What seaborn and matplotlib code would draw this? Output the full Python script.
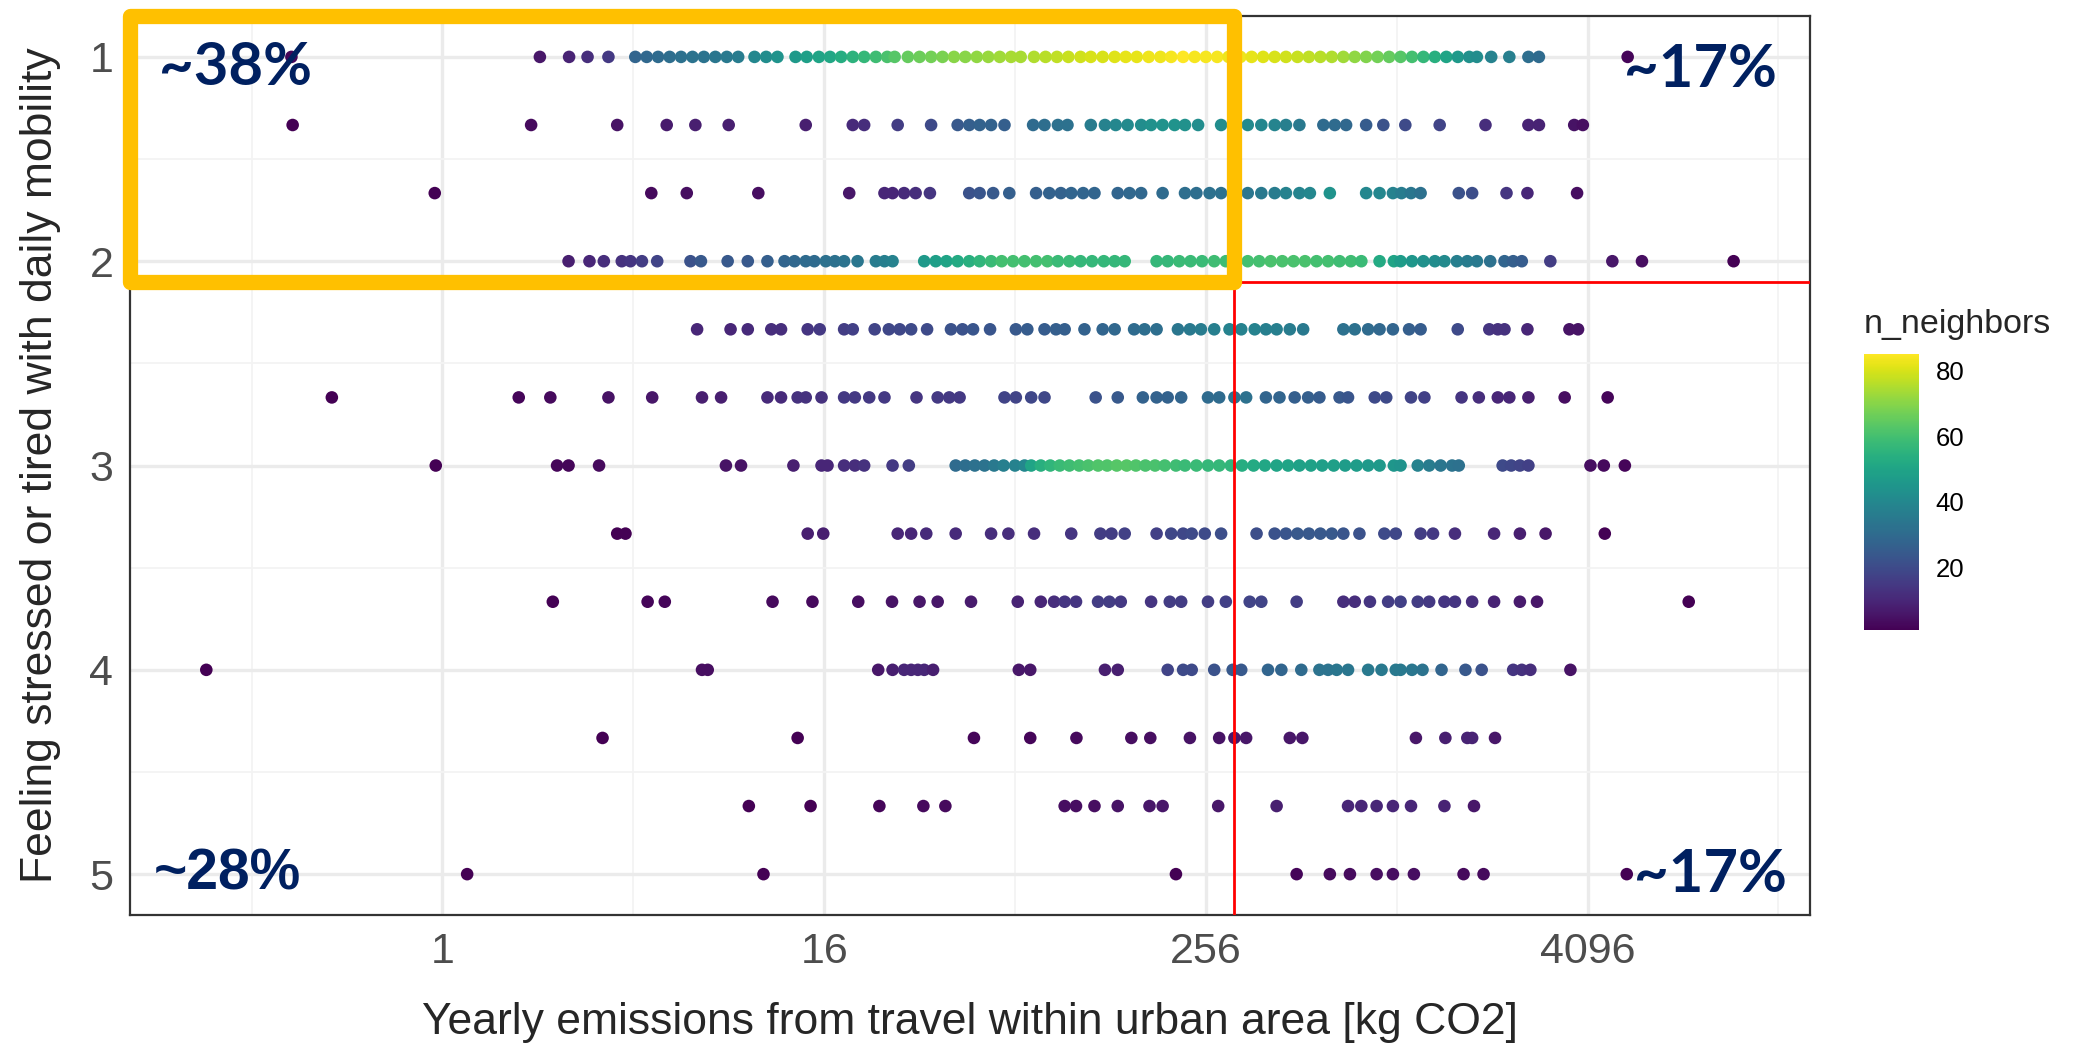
import numpy as np
import pandas as pd
import matplotlib
matplotlib.use("Agg")
import matplotlib.pyplot as plt
import seaborn as sns
from matplotlib.patches import Rectangle
from matplotlib.colors import Normalize
from matplotlib.cm import ScalarMappable
from matplotlib.ticker import FixedLocator, NullFormatter

# answer levels (1 .. 5 in steps of 1/3)
levels = [1, 4/3, 5/3, 2, 7/3, 8/3, 3, 10/3, 11/3, 4, 13/3, 14/3, 5]

# yearly emissions [kg CO2] and n_neighbors, one pair of lists per level
emis_r1 = [0.334, 2.03, 2.51, 2.87, 3.34,
           4.06, 4.41, 4.79, 5.21, 5.66, 6.15, 6.68, 7.26, 7.89, 8.57,
           9.65, 10.5, 11.4,
           13.0, 14.1, 15.4, 16.7, 18.1, 19.7, 21.4, 23.3, 25.3, 26.7,
           29.4, 32.0, 34.8, 37.8, 41.1, 44.6, 48.5, 52.7, 57.3, 62.2, 66.7,
           73.5, 79.9, 86.8, 94.3, 103, 111, 121, 132, 143, 155, 169, 184, 199, 217, 236,
           256, 278, 302, 329, 357, 388, 422, 458, 498, 541, 588, 639, 695, 755, 820, 891, 969,
           1053, 1144, 1243, 1351, 1468, 1596, 1734, 1833,
           2034, 2320, 2665, 2876, 5480]
nb_r1 = [2, 6, 9, 12, 15,
         28, 29, 30, 31, 32, 33, 33, 34, 35, 36,
         40, 42, 44,
         46, 48, 50, 51, 53, 55, 57, 59, 61, 63,
         65, 66, 67, 68, 70, 70, 71, 72, 73, 74, 74,
         75, 76, 77, 78, 79, 80, 80, 81, 82, 82, 83, 83, 84, 85, 84,
         84, 84, 83, 83, 82, 81, 80, 79, 78, 77, 76, 75, 73, 71, 69, 67, 65,
         63, 60, 57, 54, 50, 46, 43, 42,
         38, 37, 31, 30, 2]

emis_r2 = [0.337, 1.905, 3.56, 5.10, 6.28, 8.0, 14.0, 19.7, 21.4, 27.3, 34.8,
           42.2, 45.9, 49.5, 53.8, 59.3,
           73.0, 79.3, 87.4, 93.7,
           111, 123, 133, 145, 160, 172, 187, 204, 220, 242,
           286, 315, 347, 383, 422, 458, 505,
           601, 653, 709, 820, 929,
           1090, 1399, 1951, 2665, 2877, 3717, 3957]
nb_r2 = [1, 3, 5, 7, 8, 8, 8, 11, 12, 16, 20,
         24, 26, 27, 27, 26,
         30, 31, 32, 32,
         36, 38, 40, 41, 42, 43, 44, 44, 43, 42,
         42, 42, 41, 40, 39, 37, 35,
         30, 30, 29, 25, 22,
         20, 18, 12, 9, 9, 5, 4]

emis_r3 = [0.946, 4.56, 5.90, 9.92, 19.2,
           24.8, 26.3, 28.6, 31.1, 34.5,
           45.9, 49.5, 54.6, 61.4,
           74.6, 82.1, 89.3, 96.3, 105, 114,
           135, 147, 160, 187, 220, 239, 263, 286,
           347, 383, 422, 458, 505, 545, 630,
           820, 904, 996, 1060, 1136, 1218,
           1607, 1771, 2273, 2646, 3795]
nb_r3 = [1, 3, 4, 4, 6,
         10, 10, 11, 12, 14,
         22, 23, 24, 26,
         26, 27, 27, 28, 28, 28,
         28, 29, 29, 30, 31, 31, 32, 32,
         34, 35, 36, 38, 39, 40, 44,
         40, 40, 38, 36, 34, 32,
         22, 21, 14, 10, 4]

emis_r4 = [2.50, 2.91, 3.23, 3.68, 3.92, 4.26, 4.76, 6.06,
           6.54, 7.94, 9.19, 10.6, 12.0, 12.9, 14.0, 14.9, 16.2, 17.3, 18.5, 20.4, 23.3, 24.8, 26.3,
           33.1, 36.0, 38.9, 42.2, 45.9, 49.5, 53.8, 58.1, 63.1, 68.6, 74.6, 81.0,
           87.4, 95.0, 103, 112, 122, 132, 142,
           179, 194, 211, 229, 249, 272, 296,
           320, 347, 377, 410, 446, 484, 526, 572, 622, 676, 734, 792,
           904, 1003, 1053, 1144, 1243, 1351, 1448,
           1585, 1710, 1833, 2019, 2240, 2386, 2540, 3125, 4903, 6080, 11830]
nb_r4 = [8, 10, 12, 13, 14, 16, 18, 22,
         24, 24, 24, 26, 28, 29, 30, 30, 32, 32, 33, 34, 36, 37, 38,
         46, 48, 50, 52, 54, 56, 58, 60, 60, 60, 60, 60,
         58, 58, 57, 57, 57, 57, 57,
         57, 57, 58, 58, 58, 59, 59,
         59, 60, 60, 61, 61, 61, 61, 60, 60, 59, 59, 58,
         52, 50, 47, 45, 43, 42, 41,
         37, 36, 35, 32, 28, 26, 25, 16, 6, 4, 1]

emis_r5 = [6.36, 8.11, 9.19, 10.9, 11.7, 14.2, 15.5, 18.5, 19.7, 23.1, 25.6, 27.7, 30.1, 33.8,
           40.2, 43.7, 47.2, 53.4, 64.4, 70.0, 79.3, 86.2, 91.8, 106, 121, 132, 152, 164, 179,
           209, 228, 247, 272, 304, 331, 365, 396, 428, 471, 519,
           695, 755, 832, 904, 996, 1120, 1218, 1595, 2006, 2134, 2240, 2646, 3590, 3822]
nb_r5 = [10, 10, 11, 12, 12, 14, 15, 16, 17, 18, 19, 19, 20, 20,
         22, 22, 23, 23, 24, 25, 25, 26, 26, 27, 28, 29, 30, 31, 31,
         34, 35, 36, 37, 38, 38, 38, 37, 37, 36, 35,
         32, 32, 30, 29, 28, 26, 25, 20, 14, 13, 13, 10, 5, 5]

emis_r6 = [0.448, 1.741, 2.19, 3.34, 4.59, 6.59, 7.57, 10.6, 11.7, 13.2, 14.0, 15.7, 18.5, 20.0,
           22.2, 24.8, 31.3, 36.5, 39.7, 42.8,
           59.3, 64.4, 72.0, 79.3, 115, 135, 162, 179, 194, 214, 260, 282, 315, 343, 396, 437,
           488, 538, 584, 676, 719, 873, 949,
           1136, 1252, 1640, 1859, 2134, 2320, 2665, 3468, 4739]
nb_r6 = [1, 2, 3, 5, 6, 8, 8, 11, 11, 13, 13, 13, 15, 15,
         15, 15, 14, 15, 15, 15,
         18, 18, 19, 19, 22, 24, 27, 27, 27, 28, 30, 30, 32, 32, 28, 28,
         26, 26, 25, 24, 23, 20, 20,
         18, 17, 14, 12, 10, 10, 8, 4, 2]

emis_r7 = [0.953, 2.30, 2.50, 3.12, 7.84, 8.75, 12.8, 15.7, 16.4, 18.5, 20.0, 21.4, 26.3, 29.6,
           41.6, 44.6, 47.8, 51.3, 55.0, 58.9, 64.0, 68.6,
           72.0, 77.2, 82.7, 88.6, 95.0, 102, 109, 117, 125, 134, 144, 154, 165, 177, 190, 206,
           220, 239, 260, 282, 307,
           333, 362, 393, 428, 465, 505, 549, 596, 648,
           704, 765, 832, 904, 1003, 1053,
           1193, 1296, 1409, 1531, 1607, 2210, 2352, 2505, 2665, 4182, 4608, 5370]
nb_r7 = [1, 2, 2, 3, 5, 5, 8, 10, 10, 12, 12, 13, 15, 16,
         30, 31, 32, 33, 35, 37, 38, 40,
         50, 54, 56, 58, 59, 60, 61, 62, 62, 63, 63, 62, 61, 61, 60, 59,
         58, 58, 57, 57, 56,
         53, 52, 51, 50, 50, 49, 49, 48, 48,
         47, 47, 46, 46, 45, 44,
         38, 36, 34, 33, 32, 20, 19, 18, 17, 4, 3, 2]

emis_r8 = [3.56, 3.78, 14.2, 15.9, 27.3, 30.1, 33.6, 41.6, 53.8, 61.0, 73.5, 96.3, 119, 129, 142,
           179, 199, 217, 231, 254, 286, 370,
           422, 458, 498, 541, 588, 639, 695, 781, 936, 1017, 1218, 1333, 1563, 2077, 2505, 3019, 4641]
nb_r8 = [1, 1, 8, 8, 10, 10, 11, 11, 12, 12, 12, 14, 16, 16, 17,
         17, 19, 19, 20, 20, 21, 21,
         22, 23, 24, 24, 24, 24, 23, 22, 20, 19, 16, 15, 12, 10, 8, 6, 1]

emis_r9 = [2.23, 4.44, 5.03, 11.0, 14.7, 20.5, 26.2, 32.0, 36.5, 46.5, 65.3, 77.2, 85.0, 91.8,
           99.7, 117, 127, 138, 172, 197, 214, 260, 296, 352, 383, 495,
           695, 755, 843, 962, 1053, 1193, 1296, 1448, 1563, 1771, 2077, 2505, 2837, 8538]
nb_r9 = [1, 2, 2, 3, 3, 4, 5, 6, 6, 7, 9, 10, 12, 14,
         14, 16, 16, 15, 14, 16, 16, 16, 17, 18, 18, 16,
         12, 12, 14, 16, 17, 16, 15, 14, 14, 12, 9, 7, 6, 1]

emis_r10 = [0.180, 6.59, 6.87, 23.7, 26.3, 28.6, 30.1, 31.6, 33.1, 35.3, 65.8, 71.5, 123, 135,
            194, 217, 231, 272, 311, 331, 402, 443, 512,
            584, 622, 662, 719, 832, 917, 1017, 1053, 1144, 1235, 1418, 1687, 1898, 2386, 2540, 2703, 3616]
nb_r10 = [1, 4, 4, 6, 8, 10, 10, 10, 10, 8, 6, 6, 8, 8,
          18, 20, 20, 22, 24, 24, 28, 28, 30,
          33, 33, 34, 34, 35, 35, 35, 35, 34, 33, 28, 24, 22, 14, 13, 12, 5]

emis_r11 = [3.20, 13.2, 47.5, 71.5, 100, 149, 171, 228, 282, 315, 343, 471, 516, 1177, 1458, 1710, 1771, 2091]
nb_r11 = [1, 1, 2, 2, 3, 4, 4, 5, 5, 6, 6, 6, 6, 6, 8, 9, 9, 6]

emis_r12 = [9.26, 14.5, 23.9, 32.9, 38.6, 91.8, 99.7, 114, 135, 170, 187, 280, 428, 719, 792, 885, 996, 1136, 1448, 1795]
nb_r12 = [1, 1, 2, 3, 3, 4, 4, 4, 5, 6, 6, 6, 8, 10, 10, 10, 10, 10, 9, 6]

emis_r13 = [1.197, 10.3, 206, 495, 630, 729, 885, 996, 1160, 1664, 1924, 5444]
nb_r13 = [1, 1, 1, 2, 3, 3, 4, 4, 4, 3, 3, 1]

emis_rows = [emis_r1, emis_r2, emis_r3, emis_r4, emis_r5, emis_r6, emis_r7,
             emis_r8, emis_r9, emis_r10, emis_r11, emis_r12, emis_r13]
nb_rows = [nb_r1, nb_r2, nb_r3, nb_r4, nb_r5, nb_r6, nb_r7,
           nb_r8, nb_r9, nb_r10, nb_r11, nb_r12, nb_r13]

# thresholds for the quadrant lines and the share labels
thr_emis = 315
thr_stress = 2.1
quadrant_labels = ["~38%", "~17%", "~28%", "~17%"]

df = pd.concat(
    [pd.DataFrame({"emissions": e, "n_neighbors": n, "stress": lv})
     for lv, e, n in zip(levels, emis_rows, nb_rows)],
    ignore_index=True)

sns.set_style("white")
plt.rcParams["font.family"] = ["Liberation Sans", "DejaVu Sans"]

fig = plt.figure(figsize=(20.79, 10.48), dpi=100)
ax = fig.add_axes([0.0625, 0.1269, 0.8081, 0.8578])

norm = Normalize(df["n_neighbors"].min(), df["n_neighbors"].max())
sns.scatterplot(data=df, x="emissions", y="stress", hue="n_neighbors",
                palette="viridis", hue_norm=norm, s=82, linewidth=0,
                legend=False, ax=ax, zorder=3)

ax.set_xscale("log", base=2)
lo, hi = np.log2(df["emissions"].min()), np.log2(df["emissions"].max())
pad = 0.05 * (hi - lo)
xmin, xmax = 2 ** (lo - pad), 2 ** (hi + pad)
ax.set_xlim(xmin, xmax)
ax.set_ylim(5.2, 0.8)

ax.xaxis.set_major_locator(FixedLocator([1, 16, 256, 4096]))
ax.set_xticklabels(["1", "16", "256", "4096"])
ax.xaxis.set_minor_locator(FixedLocator([0.25, 4, 64, 1024, 16384]))
ax.xaxis.set_minor_formatter(NullFormatter())
ax.set_yticks([1, 2, 3, 4, 5])
ax.set_yticklabels(["1", "2", "3", "4", "5"])
ax.set_yticks([1.5, 2.5, 3.5, 4.5], minor=True)

ax.set_axisbelow(True)
ax.grid(which="major", color="#EBEBEB", lw=2.4)
ax.grid(which="minor", color="#F3F3F3", lw=1.3)
ax.tick_params(which="major", length=6, width=1.5, color="#333333",
               labelsize=31, labelcolor="#4D4D4D", pad=6)
ax.tick_params(which="minor", length=0)
for sp in ax.spines.values():
    sp.set_color("#333333")
    sp.set_linewidth(1.6)

ax.set_xlabel("Yearly emissions from travel within urban area [kg CO2]",
              fontsize=32, labelpad=22)
ax.set_ylabel("Feeling stressed or tired with daily mobility",
              fontsize=32, labelpad=20)

# quadrant lines
ax.plot([thr_emis, thr_emis], [thr_stress, 5.2], color="red", lw=2, zorder=4)
ax.plot([thr_emis, xmax], [thr_stress, thr_stress], color="red", lw=2, zorder=4)

# highlighted quadrant
ax.add_patch(Rectangle((xmin, 0.8), thr_emis - xmin, thr_stress - 0.8,
                       fill=False, edgecolor="#FFC000", lw=11,
                       joinstyle="round", clip_on=False, zorder=6))

navy = "#002060"
ax.text(0.063, 0.923, quadrant_labels[0], transform=ax.transAxes, ha="center",
        va="baseline", fontsize=43, fontweight="bold", color=navy,
        family=["Lato", "DejaVu Sans"], zorder=7)
ax.text(0.935, 0.921, quadrant_labels[1], transform=ax.transAxes, ha="center",
        va="baseline", fontsize=43, fontweight="bold", color=navy,
        family=["Lato", "DejaVu Sans"], zorder=7)
ax.text(0.058, 0.028, quadrant_labels[2], transform=ax.transAxes, ha="center",
        va="baseline", fontsize=41, fontweight="bold", color=navy, zorder=7)
ax.text(0.9405, 0.026, quadrant_labels[3], transform=ax.transAxes, ha="center",
        va="baseline", fontsize=43, fontweight="bold", color=navy,
        family=["Lato", "DejaVu Sans"], zorder=7)

# colour bar
cax = fig.add_axes([0.8966, 0.3989, 0.0265, 0.2634])
cb = fig.colorbar(ScalarMappable(norm=norm, cmap="viridis"), cax=cax)
cb.outline.set_visible(False)
cb.set_ticks([20, 40, 60, 80])
cax.tick_params(axis="y", direction="in", length=11, width=1.5, color="white",
                left=True, right=True, labelsize=18.5, labelcolor="black", pad=12)
fig.text(0.8966, 1 - 333 / 1048, "n_neighbors", fontsize=24.5,
         ha="left", va="baseline")

fig.savefig("out.png", dpi=100)
